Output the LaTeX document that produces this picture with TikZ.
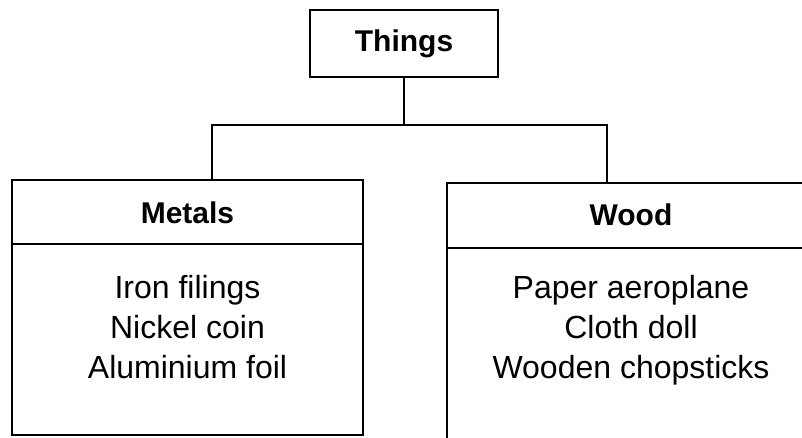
\documentclass[tikz,border=0pt]{standalone}
\usepackage{fontspec}
\setmainfont{Liberation Sans}
\usetikzlibrary{positioning}

\begin{document}
\begin{tikzpicture}[x=1pt,y=-1pt,
  box/.style={draw, line width=1.6pt, inner sep=0pt},
  head/.style={font=\fontsize{30}{36}\selectfont\bfseries},
  items/.style={align=center, font=\fontsize{32}{40}\selectfont},
  link/.style={line width=1.6pt}]
\useasboundingbox (0,0) rectangle (802,437);

\node(things)[box, head, minimum width=188pt, minimum height=67pt] at (404,43.5) {Things};

\node(metals)[box, minimum width=351pt, minimum height=255pt] at (187.5,307.5) {};
\node(wood)[box, minimum width=368pt, minimum height=270pt] at (631,318) {};

\node(metalsH)[head] at (187.5,213) {Metals};
\node(woodH)[head] at (631,215) {Wood};

\draw[link] ([yshift=-65pt]metals.north west)--([yshift=-65pt]metals.north east);
\draw[link] ([yshift=-66pt]wood.north west)--([yshift=-66pt]wood.north east);

\node(metalsL)[items] at (187.5,327) {Iron filings\\Nickel coin\\Aluminium foil};
\node(woodL)[items] at (631,330) {Paper aeroplane\\Cloth doll\\Wooden chopsticks};

\coordinate(fork) at (404,125);
\draw[link] (things.south)--(fork);
\draw[link] ([xshift=24.5pt]metals.north) |- (fork) -| ([xshift=-24pt]wood.north);
\end{tikzpicture}
\end{document}
